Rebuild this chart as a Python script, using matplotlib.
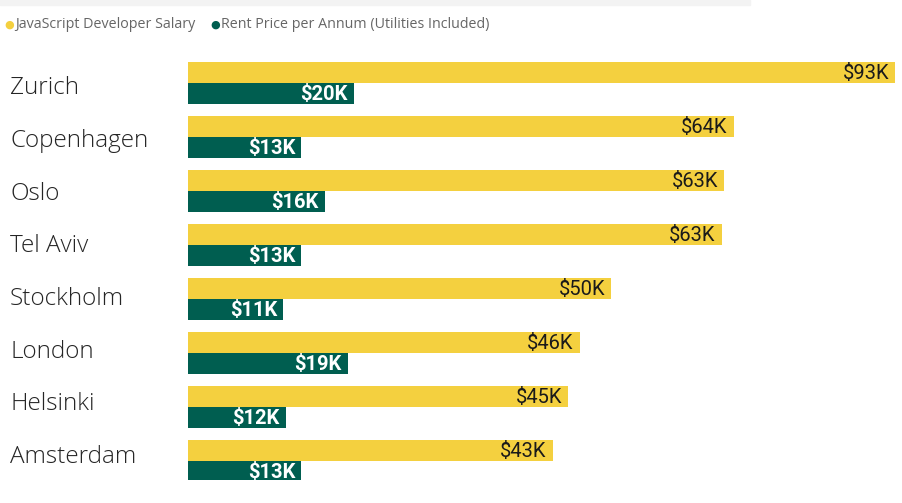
import matplotlib.pyplot as plt
import matplotlib.patches as patches
import numpy as np

cities = ['Zurich', 'Copenhagen', 'Oslo', 'Tel Aviv', 'Stockholm',
          'London', 'Helsinki', 'Amsterdam']
salary = [93.0, 64.2, 63.1, 62.8, 49.8, 46.1, 44.7, 42.9]
rent = [19.5, 13.3, 16.1, 13.3, 11.2, 18.8, 11.5, 13.3]
legend_labels = ['JavaScript Developer Salary',
                 'Rent Price per Annum (Utilities Included)']

yellow = '#F4D03F'
green = '#005E50'

fig = plt.figure(figsize=(9.03, 5.03), dpi=100)
W, H = 903, 503
# axes in pixel coords: left 188, right 895, top 56, bottom 480
ax = fig.add_axes([188 / W, 1 - 480 / H, (895 - 188) / W, (480 - 56) / H])

xmax = 83.2
y = np.arange(len(cities))
h = 0.39
ax.barh(y - h / 2, salary, height=h, color=yellow)
ax.barh(y + h / 2, rent, height=h, color=green)
ax.set_xlim(0, xmax)
ax.set_ylim(7.35, -0.5)
ax.axis('off')

for i in range(len(cities)):
    sx = min(salary[i], xmax)
    ax.text(sx - 0.7, i - h / 2 + 0.02, f'${round(salary[i])}K', ha='right', va='center',
            fontsize=14.5, color='#1a1a1a', family='Roboto')
    ax.text(rent[i] - 0.7, i + h / 2 + 0.02, f'${round(rent[i])}K', ha='right', va='center',
            fontsize=14.5, color='white', family='Roboto', fontweight='bold')
    # city names at left (the label column drifts slightly upward)
    ax.text(-178 / (707 / xmax), 0.095 + i * 0.976, cities[i], ha='left', va='center',
            fontsize=17.5, color='#252525', family='Open Sans', fontweight='light',
            clip_on=False)

# faint bar at top
fig.patches.append(patches.Rectangle((0, 1 - 5 / H), 750 / W, 5 / H,
                                     transform=fig.transFigure, color='#f3f3f3'))

# legend
ly = 1 - 24.5 / H
fig.text(9 / W, ly, '\u25cf', color=yellow, fontsize=8, ha='center', va='center')
fig.text(15 / W, ly, legend_labels[0], color='#666666', fontsize=10.3,
         ha='left', va='center', family='Open Sans')
fig.text(215 / W, ly, '\u25cf', color=green, fontsize=8, ha='center', va='center')
fig.text(221 / W, ly, legend_labels[1], color='#666666', fontsize=10.3,
         ha='left', va='center', family='Open Sans')

fig.savefig('out.png', dpi=100)
